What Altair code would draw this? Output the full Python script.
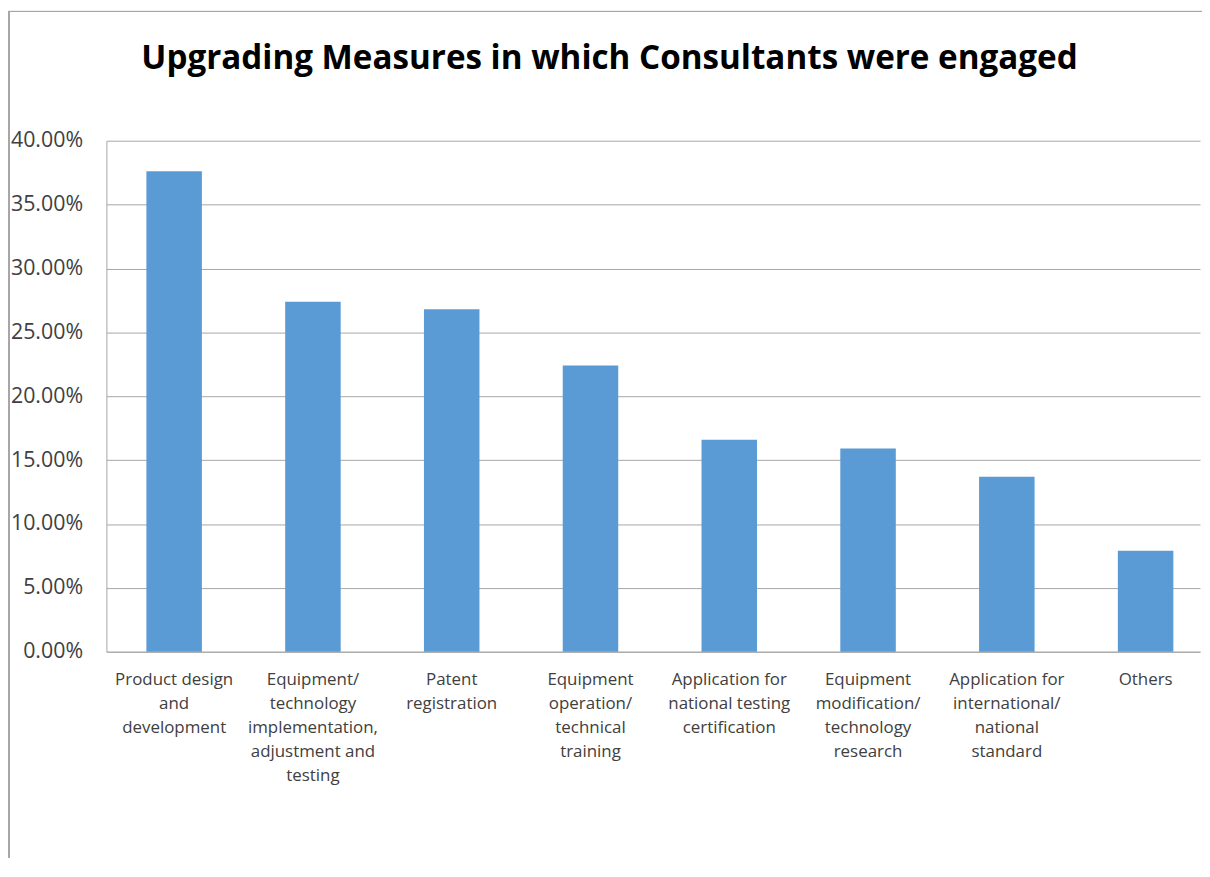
import altair as alt
import pandas as pd

categories = [
    "Product design|and|development",
    "Equipment/|technology|implementation,|adjustment and|testing",
    "Patent|registration",
    "Equipment|operation/|technical|training",
    "Application for|national testing|certification",
    "Equipment|modification/|technology|research",
    "Application for|international/|national|standard",
    "Others",
]
values = [0.376, 0.274, 0.268, 0.224, 0.166, 0.159, 0.137, 0.079]
y_ticks = [0, 0.05, 0.10, 0.15, 0.20, 0.25, 0.30, 0.35, 0.40]
title_text = ["Upgrading Measures in which Consultants were engaged"]

df = pd.DataFrame({"cat": categories, "val": values})
tdf = pd.DataFrame({"t": title_text})
FONT = "Open Sans"

bars = alt.Chart(df).mark_bar(color="#5B9BD5").encode(
    x=alt.X("cat:N", sort=categories, title=None,
            scale=alt.Scale(paddingInner=0.6, paddingOuter=0.24, align=0.6),
            axis=alt.Axis(labelAngle=0, labelExpr="split(datum.label, '|')",
                          labelFontSize=17, labelColor="#404040", labelFont=FONT,
                          labelLineHeight=24.2, labelPadding=20, ticks=False,
                          domainColor="#A6A6A6", labelLimit=200)),
    y=alt.Y("val:Q", title=None,
            scale=alt.Scale(domain=[0, 0.40], nice=False),
            axis=alt.Axis(format=".2%", values=y_ticks, labelFontSize=21.5,
                          labelColor="#404040", labelFont=FONT, labelPadding=24,
                          ticks=False, domainColor="#A6A6A6",
                          gridColor="#A6A6A6", grid=True)),
)

title = alt.Chart(tdf).mark_text(
    font=FONT, fontSize=33.4, fontWeight="bold", color="#000000",
    align="center", baseline="alphabetic").encode(
    text="t:N", x=alt.value(506), y=alt.value(-72))

frame_top = alt.Chart(df).mark_rule(color="#A6A6A6", strokeWidth=1).encode(
    x=alt.value(-99), x2=alt.value(1110), y=alt.value(-130))
frame_left = alt.Chart(df).mark_rule(color="#A6A6A6", strokeWidth=1).encode(
    x=alt.value(-98), y=alt.value(-130), y2=alt.value(800))

chart = alt.layer(bars, title, frame_top, frame_left).properties(
    width=1100, height=514,
    autosize=alt.AutoSizeParams(type="none"),
    padding={"left": 99, "top": 131, "right": 2, "bottom": 205},
).configure_view(stroke=None).configure_axis(domainWidth=1, gridWidth=1)

chart.save("out.html", embed_options={"renderer": "svg", "actions": False})
